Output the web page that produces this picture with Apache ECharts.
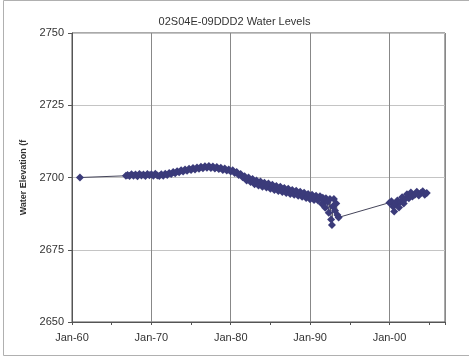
<!DOCTYPE html>
<html>
<head>
<meta charset="utf-8">
<script src="https://cdn.jsdelivr.net/npm/echarts@6/dist/echarts.min.js"></script>
<style>
    html, body { margin:0; padding:0; background:#fff; }
    #water-level-chart { width:469px; height:359px; }
</style>
</head>
<body>
<div id="water-level-chart"></div>
<script>
// decimal years of each reading
var years = [
    1961.0, 1966.8,
    1967.00, 1967.25, 1967.50, 1967.75, 1968.00, 1968.25, 1968.50, 1968.75,
    1969.00, 1969.25, 1969.50, 1969.75, 1970.00, 1970.25, 1970.50, 1970.75,
    1971.00, 1971.25, 1971.50, 1971.75, 1972.00, 1972.25, 1972.50, 1972.75,
    1973.00, 1973.25, 1973.50, 1973.75, 1974.00, 1974.25, 1974.50, 1974.75,
    1975.00, 1975.25, 1975.50, 1975.75, 1976.00, 1976.25, 1976.50, 1976.75,
    1977.00, 1977.25, 1977.50, 1977.75, 1978.00, 1978.25, 1978.50, 1978.75,
    1979.00, 1979.25, 1979.50, 1979.75, 1980.00, 1980.25, 1980.50, 1980.75,
    1981.00, 1981.25, 1981.50, 1981.75, 1982.00, 1982.25, 1982.50, 1982.75,
    1983.00, 1983.25, 1983.50, 1983.75, 1984.00, 1984.25, 1984.50, 1984.75,
    1985.00, 1985.25, 1985.50, 1985.75, 1986.00, 1986.25, 1986.50, 1986.75,
    1987.00, 1987.25, 1987.50, 1987.75, 1988.00, 1988.25, 1988.50, 1988.75,
    1989.00, 1989.25, 1989.50, 1989.75, 1990.00, 1990.25, 1990.50, 1990.75,
    1991.00, 1991.25, 1991.50, 1991.60, 1991.75, 1991.90, 1992.00, 1992.20,
    1992.35, 1992.50, 1992.65, 1992.75, 1992.85, 1993.00, 1993.15, 1993.30,
    1993.45, 1993.60,
    2000.00, 2000.25, 2000.45, 2000.60, 2000.80, 2001.00, 2001.20, 2001.40,
    2001.60, 2001.80, 2002.00, 2002.20, 2002.45, 2002.70, 2002.90, 2003.20,
    2003.45, 2003.70, 2003.95, 2004.20, 2004.45, 2004.70
];
// water elevation, ft
var levels = [
    2700.0, 2700.6,
    2700.9, 2700.5, 2701.1, 2700.6, 2701.0, 2700.4, 2701.2, 2700.7,
    2701.0, 2700.5, 2701.2, 2700.8, 2701.1, 2700.6, 2701.3, 2700.7,
    2700.5, 2701.1, 2700.6, 2701.3, 2700.9, 2701.6, 2701.2, 2701.9,
    2701.5, 2702.2, 2701.8, 2702.5, 2702.1, 2702.8, 2702.3, 2703.0,
    2702.6, 2703.3, 2702.8, 2703.5, 2703.0, 2703.7, 2703.2, 2703.9,
    2703.4, 2704.0, 2703.3, 2703.8, 2703.1, 2703.6, 2702.9, 2703.4,
    2702.6, 2703.1, 2702.4, 2702.8, 2702.1, 2702.5, 2701.6, 2701.9,
    2700.9, 2701.2, 2700.1, 2700.4, 2699.0, 2700.0, 2698.4, 2699.5,
    2697.7, 2699.0, 2697.2, 2698.6, 2696.8, 2698.2, 2696.5, 2697.9,
    2696.1, 2697.5, 2695.7, 2697.1, 2695.3, 2696.8, 2695.0, 2696.4,
    2694.6, 2696.1, 2694.3, 2695.7, 2694.0, 2695.4, 2693.7, 2695.1,
    2693.3, 2694.7, 2692.9, 2694.3, 2692.5, 2694.0, 2692.2, 2693.7,
    2692.0, 2693.5, 2690.8, 2693.0, 2692.2, 2689.5, 2692.8, 2691.5,
    2687.8, 2692.6, 2685.5, 2683.6, 2690.0, 2692.6, 2688.5, 2691.0,
    2687.0, 2686.2,
    2691.3, 2691.8, 2690.0, 2688.2, 2690.8, 2692.0, 2689.6, 2691.6,
    2693.2, 2691.0, 2692.6, 2694.2, 2692.8, 2694.8, 2693.4, 2694.0,
    2695.1, 2693.8, 2694.6, 2695.2, 2694.0, 2694.6
];
var yTicks = [2650, 2675, 2700, 2725, 2750];

var seriesData = [];
for (var i = 0; i < years.length; i++) {
    seriesData.push([years[i], levels[i]]);
}

var chart = echarts.init(document.getElementById('water-level-chart'));

var option = {
    animation: false,
    backgroundColor: '#fff',
    title: {
        text: '02S04E-09DDD2 Water Levels',
        left: 'center',
        top: 11,
        textStyle: {
            fontFamily: 'Liberation Sans, Arial',
            fontSize: 11,
            fontWeight: 'normal',
            color: '#333'
        }
    },
    graphic: [
        {
            type: 'rect',
            shape: { x: 3.5, y: 0.5, width: 470, height: 355 },
            style: { fill: 'none', stroke: '#b0b0b0', lineWidth: 1 },
            silent: true
        }
    ],
    grid: {
        left: 72,
        top: 33,
        right: 24,
        bottom: 37,
        show: true,
        borderColor: '#555',
        borderWidth: 1
    },
    xAxis: [
        {
            type: 'value',
            min: 1960,
            max: 2007,
            interval: 5,
            axisLine: { lineStyle: { color: '#555' } },
            axisTick: { show: true, length: 3, lineStyle: { color: '#555' } },
            axisLabel: {
                margin: 10,
                fontFamily: 'Liberation Sans, Arial',
                fontSize: 11,
                color: '#333',
                formatter: function (v) {
                    if (v % 10 !== 0) return '';
                    return 'Jan-' + String(v % 100).padStart(2, '0');
                }
            },
            splitLine: { show: false }
        },
        {
            // decade grid lines only
            type: 'value',
            min: 1960,
            max: 2007,
            interval: 10,
            position: 'bottom',
            axisLine: { show: false },
            axisTick: { show: false },
            axisLabel: { show: false },
            splitLine: { show: true, lineStyle: { color: '#888', width: 1 } }
        }
    ],
    yAxis: {
        type: 'value',
        min: yTicks[0],
        max: yTicks[yTicks.length - 1],
        interval: 25,
        name: 'Water Elevation (f',
        nameLocation: 'middle',
        nameGap: 44,
        nameTextStyle: {
            fontFamily: 'Liberation Sans, Arial',
            fontSize: 9,
            fontWeight: 'bold',
            color: '#333'
        },
        axisLine: { show: true, lineStyle: { color: '#555' } },
        axisTick: { show: true, length: 4, lineStyle: { color: '#555' } },
        axisLabel: {
            margin: 8,
            fontFamily: 'Liberation Sans, Arial',
            fontSize: 11,
            color: '#333',
            formatter: function (v) { return String(v); }
        },
        splitLine: { show: true, lineStyle: { color: '#c4c4c4', width: 1 } }
    },
    series: [
        {
            name: 'Water Level',
            type: 'line',
            data: seriesData,
            symbol: 'diamond',
            symbolSize: 8,
            lineStyle: { color: '#45455a', width: 1 },
            itemStyle: { color: '#3b3b7a' }
        }
    ]
};

chart.setOption(option);
</script>
</body>
</html>
